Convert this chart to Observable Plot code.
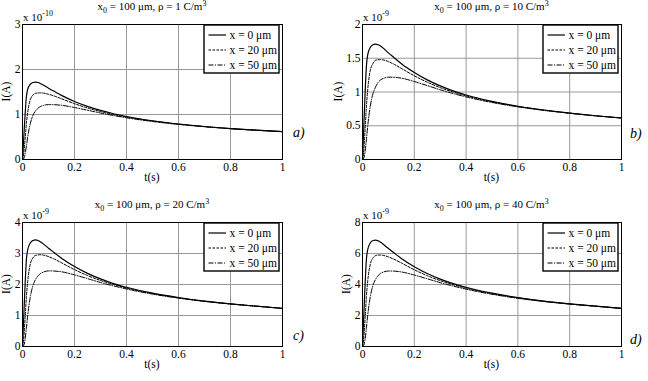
<!DOCTYPE html>
<html><head><meta charset="utf-8">
<script src="https://cdn.jsdelivr.net/npm/d3@7"></script>
<script src="https://cdn.jsdelivr.net/npm/@observablehq/plot@0.6"></script>
<style>
body{margin:0;background:#fff;}
#chart{position:relative;width:648px;height:381px;overflow:hidden;background:#fff;font-family:"Liberation Serif","Times New Roman",serif;}
#chart > svg{position:absolute;}
#chart svg, #chart svg text{font-family:"Liberation Serif","Times New Roman",serif !important;}
</style></head><body><div id="chart"></div>
<script>
// time samples (s)
const tValues = [0, 0.005, 0.01, 0.015, 0.02, 0.03, 0.04, 0.05, 0.06, 0.07, 0.08, 0.1, 0.12, 0.15, 0.2, 0.25, 0.3, 0.35, 0.4, 0.5, 0.6, 0.7, 0.8, 0.9, 1.0];
const xTicks = [0, 0.2, 0.4, 0.6, 0.8, 1];
const seriesNames = ["x = 0 \u03bcm", "x = 20 \u03bcm", "x = 50 \u03bcm"];

// panel a: rho = 1 C/m^3, units 1e-10 A
const aX0  = [0, 0.50, 1.00, 1.40, 1.56, 1.67, 1.71, 1.72, 1.71, 1.685, 1.655, 1.585, 1.52, 1.425, 1.29, 1.18, 1.09, 1.017, 0.956, 0.861, 0.789, 0.733, 0.688, 0.651, 0.62];
const aX20 = [0, 0.15, 0.45, 0.80, 1.05, 1.33, 1.43, 1.47, 1.478, 1.48, 1.475, 1.45, 1.415, 1.35, 1.24, 1.145, 1.065, 0.999, 0.943, 0.855, 0.786, 0.731, 0.687, 0.65, 0.62];
const aX50 = [0, 0.02, 0.12, 0.30, 0.50, 0.80, 0.98, 1.08, 1.14, 1.18, 1.20, 1.22, 1.218, 1.205, 1.155, 1.095, 1.033, 0.977, 0.927, 0.845, 0.78, 0.728, 0.685, 0.65, 0.62];
// panel b: rho = 10 C/m^3, units 1e-9 A
const bX0  = [0, 0.48, 0.98, 1.38, 1.55, 1.66, 1.70, 1.71, 1.70, 1.68, 1.65, 1.58, 1.515, 1.42, 1.29, 1.18, 1.09, 1.017, 0.956, 0.861, 0.789, 0.733, 0.688, 0.648, 0.615];
const bX20 = [0, 0.14, 0.44, 0.78, 1.03, 1.32, 1.42, 1.47, 1.478, 1.48, 1.475, 1.45, 1.415, 1.35, 1.24, 1.145, 1.065, 0.999, 0.943, 0.855, 0.786, 0.731, 0.687, 0.647, 0.615];
const bX50 = [0, 0.02, 0.12, 0.29, 0.49, 0.79, 0.97, 1.07, 1.14, 1.18, 1.20, 1.22, 1.218, 1.205, 1.155, 1.095, 1.033, 0.977, 0.927, 0.845, 0.78, 0.728, 0.685, 0.647, 0.615];
// panel c: rho = 20 C/m^3, units 1e-9 A
const cX0  = [0, 1.0, 2.0, 2.8, 3.12, 3.34, 3.42, 3.44, 3.42, 3.37, 3.31, 3.17, 3.04, 2.85, 2.58, 2.36, 2.18, 2.03, 1.91, 1.72, 1.58, 1.465, 1.375, 1.30, 1.23];
const cX20 = [0, 0.3, 0.9, 1.6, 2.1, 2.66, 2.86, 2.94, 2.955, 2.96, 2.95, 2.90, 2.83, 2.70, 2.48, 2.29, 2.13, 2.00, 1.885, 1.71, 1.57, 1.46, 1.375, 1.30, 1.23];
const cX50 = [0, 0.04, 0.24, 0.6, 1.0, 1.6, 1.96, 2.16, 2.28, 2.36, 2.40, 2.44, 2.435, 2.41, 2.31, 2.19, 2.065, 1.955, 1.855, 1.69, 1.56, 1.455, 1.37, 1.30, 1.23];
// panel d: rho = 40 C/m^3, units 1e-9 A
const dX0  = [0, 2.0, 4.0, 5.6, 6.24, 6.68, 6.84, 6.86, 6.82, 6.72, 6.60, 6.32, 6.06, 5.68, 5.15, 4.71, 4.35, 4.06, 3.82, 3.44, 3.155, 2.93, 2.75, 2.60, 2.46];
const dX20 = [0, 0.6, 1.8, 3.2, 4.2, 5.3, 5.7, 5.86, 5.9, 5.9, 5.88, 5.78, 5.64, 5.39, 4.95, 4.57, 4.25, 3.99, 3.76, 3.41, 3.14, 2.92, 2.745, 2.60, 2.46];
const dX50 = [0, 0.08, 0.48, 1.2, 2.0, 3.2, 3.92, 4.32, 4.56, 4.72, 4.80, 4.87, 4.865, 4.81, 4.61, 4.37, 4.12, 3.90, 3.70, 3.37, 3.11, 2.905, 2.735, 2.60, 2.46];

const yTicksA = [0, 1, 2, 3];
const yTicksB = [0, 0.5, 1, 1.5, 2];
const yTicksC = [0, 1, 2, 3, 4];
const yTicksD = [0, 2, 4, 6, 8];
const rhoValues = [1, 10, 20, 40];
const exponents = ["-10", "-9", "-9", "-9"];
const panelLetters = ["a)", "b)", "c)", "d)"];

const lineStyles = [
  {w: 1.2, dash: null},
  {w: 1, dash: "2.5,1.5"},
  {w: 1, dash: "5,1.5,1,1.5"}
];

const panels = [
  {left: 0,   top: 0,   w: 330, h: 190, ml: 22, mr: 48, mt: 24, mb: 31, series: [aX0, aX20, aX50], yTicks: yTicksA, ylabOff: 12, letterX: 293, letterY: 137},
  {left: 330, top: 0,   w: 318, h: 190, ml: 32, mr: 27, mt: 24, mb: 31, series: [bX0, bX20, bX50], yTicks: yTicksB, ylabOff: 20, letterX: 630, letterY: 138},
  {left: 0,   top: 190, w: 330, h: 191, ml: 22, mr: 48, mt: 32, mb: 35, series: [cX0, cX20, cX50], yTicks: yTicksC, ylabOff: 12, letterX: 293, letterY: 340},
  {left: 330, top: 190, w: 318, h: 191, ml: 32, mr: 27, mt: 32, mb: 35, series: [dX0, dX20, dX50], yTicks: yTicksD, ylabOff: 12, letterX: 630, letterY: 344}
];

const chart = document.getElementById("chart");
const fmt = d => String(d);
const serif = "Liberation Serif";

panels.forEach((p) => {
  const marks = [
    Plot.gridX(xTicks, {stroke: "#999", strokeOpacity: 1, strokeWidth: 1}),
    Plot.gridY(p.yTicks, {stroke: "#999", strokeOpacity: 1, strokeWidth: 1}),
    Plot.axisX(xTicks, {anchor: "bottom", tickSize: 0, tickPadding: 3, tickFormat: fmt, label: null, fontFamily: serif, fontSize: 11.5}),
    Plot.axisY(p.yTicks, {anchor: "left", tickSize: 0, tickPadding: 2, tickFormat: fmt, label: null, fontFamily: serif, fontSize: 11.5})
  ];
  p.series.forEach((vals, k) => {
    const data = vals.map((v, i) => ({t: tValues[i], I: v}));
    marks.push(Plot.line(data, {x: "t", y: "I", stroke: "#000", strokeWidth: lineStyles[k].w,
      strokeDasharray: lineStyles[k].dash, curve: "monotone-x"}));
  });
  marks.push(Plot.frame({stroke: "#000", strokeWidth: 1}));
  const svg = Plot.plot({
    width: p.w, height: p.h,
    marginLeft: p.ml, marginRight: p.mr, marginTop: p.mt, marginBottom: p.mb,
    style: {fontFamily: serif, fontSize: "11px", color: "#000", background: "transparent", overflow: "visible"},
    x: {domain: [0, 1]},
    y: {domain: [0, p.yTicks[p.yTicks.length - 1]]},
    marks
  });
  svg.style.left = p.left + "px";
  svg.style.top = p.top + "px";
  chart.appendChild(svg);
});

// overlay for annotations
const ov = d3.select(chart).append("svg")
  .attr("width", 648).attr("height", 381)
  .style("position", "absolute").style("left", "0px").style("top", "0px")
  .style("pointer-events", "none");

panels.forEach((p, i) => {
  const x0 = p.left + p.ml, x1 = p.left + p.w - p.mr;
  const y0 = p.top + p.mt, y1 = p.top + p.h - p.mb;
  const cx = (x0 + x1) / 2, cy = (y0 + y1) / 2;

  // title
  const t = ov.append("text").attr("x", cx).attr("y", y0 - 14).attr("text-anchor", "middle").attr("font-size", 11);
  t.append("tspan").text("x");
  t.append("tspan").attr("dy", 3).attr("font-size", 8).text("0");
  t.append("tspan").attr("dy", -3).text(" = 100 \u03bcm, \u03c1 = " + rhoValues[i] + " C/m");
  t.append("tspan").attr("dy", -4).attr("font-size", 8).text("3");

  // exponent
  const e = ov.append("text").attr("x", x0 + 1).attr("y", y0 - 3).attr("font-size", 11);
  e.append("tspan").text("x 10");
  e.append("tspan").attr("dy", -5).attr("font-size", 8).text(exponents[i]);

  // axis labels
  ov.append("text").attr("x", cx).attr("y", y1 + 21.5).attr("text-anchor", "middle").attr("font-size", 11.5).text("t(s)");
  ov.append("text").attr("transform", `translate(${x0 - p.ylabOff},${cy}) rotate(-90)`)
    .attr("text-anchor", "middle").attr("font-size", 11.5).text("I(A)");

  // panel letter
  ov.append("text").attr("x", p.letterX).attr("y", p.letterY).attr("font-size", 14)
    .attr("font-style", "italic").text(panelLetters[i]);

  // legend
  const lw = 75, lh = 48;
  const lx = x1 - 3 - lw, ly = y0 + 1;
  const g = ov.append("g");
  g.append("rect").attr("x", lx).attr("y", ly).attr("width", lw).attr("height", lh)
    .attr("fill", "#fff").attr("stroke", "#000").attr("stroke-width", 1.4);
  seriesNames.forEach((name, k) => {
    const ry = ly + 10 + k * 15;
    g.append("line").attr("x1", lx + 4.5).attr("x2", lx + 22).attr("y1", ry).attr("y2", ry)
      .attr("stroke", "#000").attr("stroke-width", lineStyles[k].w)
      .attr("stroke-dasharray", lineStyles[k].dash);
    g.append("text").attr("x", lx + 25.5).attr("y", ry + 3.5).attr("font-size", 11.5).text(name);
  });
});
</script></body></html>
